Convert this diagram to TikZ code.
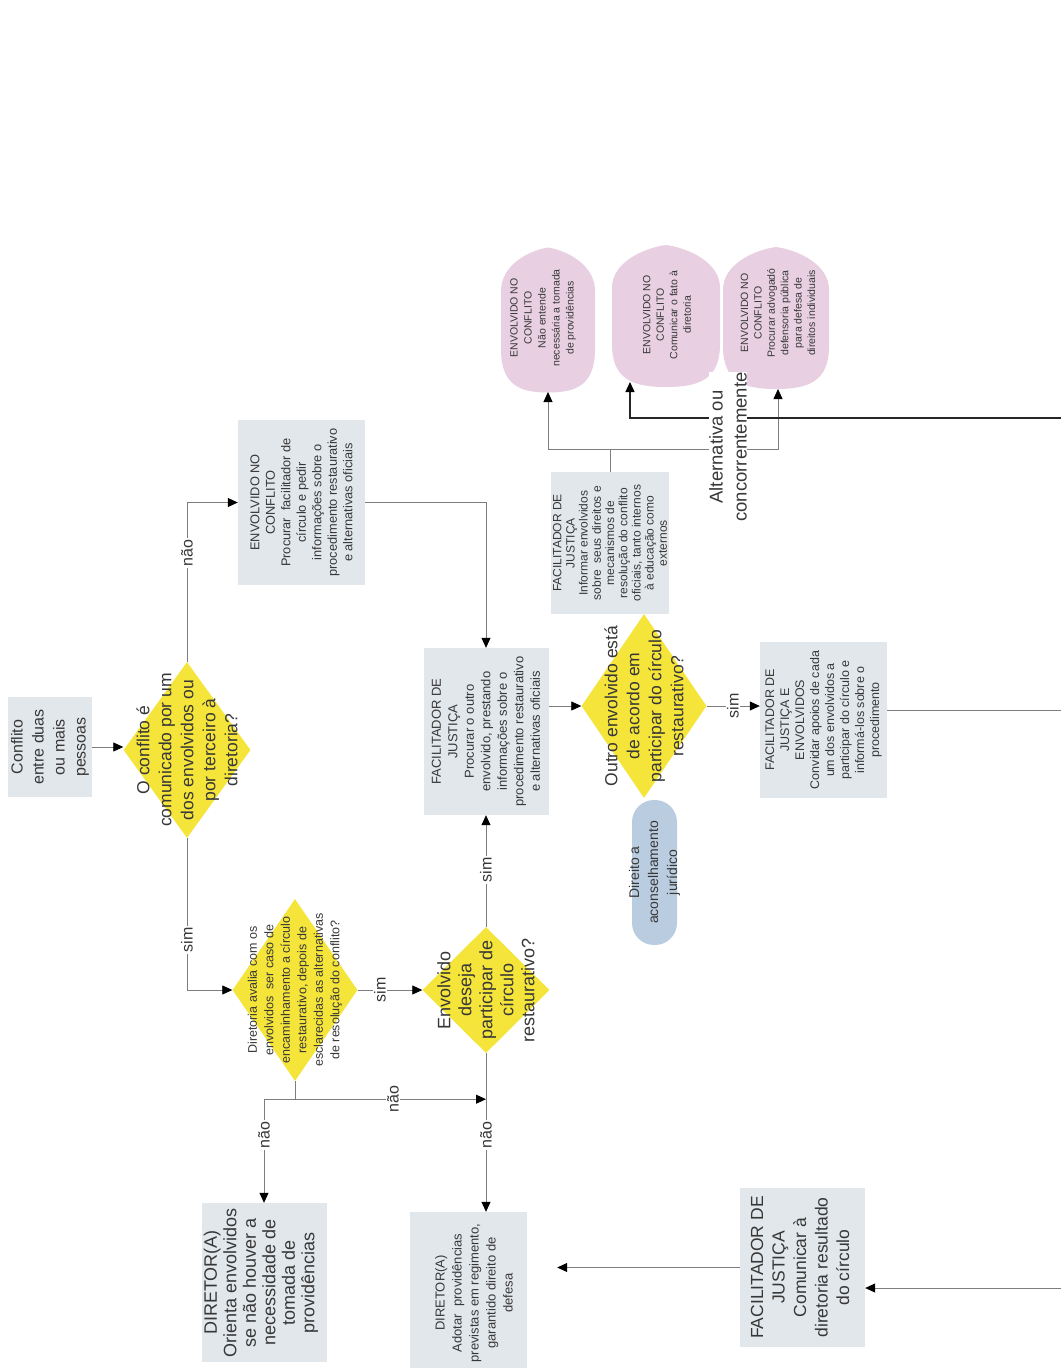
\documentclass[tikz,border=0pt]{standalone}
\usepackage{fontspec}
\setmainfont{Liberation Sans}
\usetikzlibrary{arrows.meta,shapes.geometric,calc}
\definecolor{boxgray}{RGB}{226,231,235}
\definecolor{decyellow}{RGB}{245,229,58}
\definecolor{droppink}{RGB}{232,208,226}
\definecolor{pillblue}{RGB}{186,205,224}
\definecolor{linegray}{RGB}{125,125,125}
\definecolor{inkgray}{RGB}{55,55,55}
\newcommand\fsz[2]{\fontsize{#1pt}{#2pt}\selectfont}

\begin{document}
\begin{tikzpicture}[x=1pt,y=-1pt,
  box/.style={rectangle, fill=boxgray, draw=none, inner sep=0pt},
  decision/.style={diamond, fill=decyellow, draw=none, inner sep=0pt},
  pill/.style={rectangle, rounded corners=22pt, fill=pillblue, draw=none, inner sep=0pt},
  txt/.style={rotate=90, align=center, text=inkgray, inner sep=0pt},
  conn/.style={draw=linegray, line width=0.8pt},
  arr/.style={conn, -{Triangle[length=10pt,width=9pt,color=black]}},
  boldarr/.style={draw=black!85, line width=1.3pt, -{Triangle[length=10pt,width=9pt,color=black]}},
  lbl/.style={rotate=90, fill=white, inner sep=1.5pt, text=inkgray, font=\fsz{16}{18}},
  drop/.style={fill=droppink, draw=none},
]
\fill[white] (0,0) rectangle (1061,1368);
\useasboundingbox (0,0) rectangle (1061,1368);

% ---------- rounded "drop" outcomes (unit shape, scaled per use) ----------
\def\dropoutline{(-0.5,-0.2) -- (-0.5,0.2) .. controls (-0.5,0.45) and (-0.3,0.5) .. (0,0.5)
   .. controls (0.3,0.5) and (0.5,0.45) .. (0.5,0.2) -- (0.5,-0.2)
   .. controls (0.5,-0.38) and (0.2,-0.48) .. (0,-0.5)
   .. controls (-0.2,-0.48) and (-0.5,-0.38) .. (-0.5,-0.2) -- cycle}
\begin{scope}[shift={(548,320)}, x=94pt, y=-145pt]
  \fill[drop] \dropoutline;
\end{scope}
\begin{scope}[shift={(666,316)}, x=108pt, y=-142pt]
  \fill[drop] \dropoutline;
\end{scope}
\begin{scope}[shift={(776,318)}, x=106pt, y=-142pt]
  \fill[drop] \dropoutline;
\end{scope}
\node[txt, font=\fsz{10.5}{14}] (s1) at (543,318)
  {ENVOLVIDO NO\\CONFLITO\\Não entende\\necessária a tomada\\de providências};
\node[txt, font=\fsz{10.5}{13.5}] (s2) at (667,315)
  {ENVOLVIDO NO\\CONFLITO\\Comunicar o fato à\\diretoria};
\node[txt, font=\fsz{10.5}{13.4}] (s3) at (778,313)
  {ENVOLVIDO NO\\CONFLITO\\Procurar advogadó\\defensoria pública\\para defesa de\\direitos individuais};
\coordinate (s1b) at (548,392);
\coordinate (s2b) at (630,382);
\coordinate (s3b) at (778,389);

% ---------- process boxes ----------
\node[box, minimum width=84pt, minimum height=100pt] (n0) at (50,747) {};
\node[txt, font=\fsz{16}{21}] (n0t) at (n0) {Conflito\\entre duas\\ou mais\\pessoas};

\node[box, minimum width=127pt, minimum height=165pt] (b3) at (301.5,502.5) {};
\node[txt, font=\fsz{12.8}{15.5}] (b3t) at (b3)
  {ENVOLVIDO NO\\CONFLITO\\Procurar\ \ facilitador de\\círculo e pedir\\informações sobre o\\procedimento restaurativo\\e alternativas oficiais};

\node[box, minimum width=125pt, minimum height=167pt] (b4) at (486,731.5) {};
\node[txt, font=\fsz{13}{16.5}] (b4t) at (b4)
  {FACILITADOR DE\\JUSTIÇA\\Procurar o outro\\envolvido, prestando\\informações sobre o\\procedimento restaurativo\\e alternativas oficiais};

\node[box, minimum width=118pt, minimum height=142pt] (b5) at (610,543) {};
\node[txt, font=\fsz{12}{13.2}] (b5t) at (b5)
  {FACILITADOR DE\\JUSTIÇA\\Informar envolvidos\\sobre\ \ seus direitos e\\mecanismos de\\resolução do conflito\\oficiais, tanto internos\\à educação como\\externos};

\node[box, minimum width=127pt, minimum height=156pt] (b6) at (823.5,720) {};
\node[txt, font=\fsz{12.5}{15}] (b6t) at (b6)
  {FACILITADOR DE\\JUSTIÇA E\\ENVOLVIDOS\\Convidar apoios de cada\\um dos envolvidos a\\participar do círculo e\\informá-los sobre o\\procedimento};

\node[pill, minimum width=45pt, minimum height=145pt] (p1) at (654.5,872.5) {};
\node[txt, font=\fsz{14}{19}] (p1t) at (p1) {Direito a\\aconselhamento\\jurídico};

\node[box, minimum width=125pt, minimum height=159pt] (b7) at (264,1282.5) {};
\node[txt, font=\fsz{18}{19.5}] (b7t) at (261,1282.5)
  {DIRETOR(A)\\Orienta envolvidos\\se não houver a\\necessidade de\\tomada de\\providências};

\node[box, minimum width=117pt, minimum height=160pt] (b8) at (468.5,1292) {};
\node[txt, font=\fsz{13}{17}] (b8t) at (474,1293)
  {DIRETOR(A)\\Adotar\ \ providências\\previstas em regimento,\\garantido direito de\\defesa};

\node[box, minimum width=125pt, minimum height=159pt] (b9) at (802.5,1267.5) {};
\node[txt, font=\fsz{17.5}{21.5}] (b9t) at (800,1267.5)
  {FACILITADOR DE\\JUSTIÇA\\Comunicar à\\diretoria resultado\\do círculo};

% ---------- decisions ----------
\node[decision, minimum width=127pt, minimum height=176pt] (d1) at (187,750) {};
\node[txt, font=\fsz{17.5}{22}] (d1t) at (d1)
  {O conflito é\\comunicado por um\\dos envolvidos ou\\por terceiro à\\diretoria?};

\node[decision, minimum width=125pt, minimum height=182pt] (d2) at (295,990) {};
\node[txt, font=\fsz{12.5}{16.5}] (d2t) at (d2)
  {Diretoria avalia com os\\envolvidos\ \ ser caso de\\encaminhamento a círculo\\restaurativo, depois de\\esclarecidas as alternativas\\de resolução do conflito?};

\node[decision, minimum width=127pt, minimum height=126pt] (d4) at (486,990) {};
\node[txt, font=\fsz{18}{21}] (d4t) at (d4)
  {Envolvido\\deseja\\participar de\\círculo\\restaurativo?};

\node[decision, minimum width=125pt, minimum height=184pt] (d3) at (644,706) {};
\node[txt, font=\fsz{17.5}{22}] (d3t) at (d3)
  {Outro envolvido está\\de acordo em\\participar do círculo\\restaurativo?};

% ---------- connectors ----------
\draw[arr] (n0.east) -- (n0.east -| d1.west);
\draw[arr] (d1.north) |- (b3.west);
\draw[arr] (d1.south) |- (d2.west);
\draw[arr] (b3.east) -| (b4.north);
\draw[arr] (b4.east |- d3.west) -- (d3.west);
\draw[arr] (d3.east) -- (d3.east -| b6.west);
\coordinate (edge2) at (1061,710);
\draw[conn] (edge2 -| b6.east) -- (edge2);

\draw[arr] (d2.east) -- (d4.west);
\draw[arr] (d4.north) -- (b4.south);
\draw[arr] (d4.south) -- (d4.south |- b8.north);
\draw[conn] (d2.south) -- ++(0,18) coordinate (j2);
\draw[arr] (j2) -| (b7.north);
\draw[arr] (j2) -- (j2 -| d4.south);

\draw[conn] (b5.north) -- ++(0,-22) coordinate (j1);
\draw[arr] (j1) -| (s1b);
\draw[arr] (j1) -| (s3b);

\coordinate (edge1) at (1061,418);
\draw[boldarr] (edge1) -| (s2b);

\coordinate (edge3) at (1061,1288);
\draw[arr] (edge3) -- (edge3 -| b9.east);
\draw[arr, shorten >=30pt] (b9.west) -- (b9.west -| b8.east);

% ---------- connector labels ----------
\node[lbl] (l1) at (187,553) {não};
\node[lbl] (l2) at (187,940) {sim};
\node[lbl] (l3) at (380,990) {sim};
\node[lbl] (l4) at (486,870) {sim};
\node[lbl] (l5) at (486,1135) {não};
\node[lbl] (l6) at (264,1135) {não};
\node[lbl] (l7) at (393,1099) {não};
\node[lbl] (l8) at (733,706) {sim};
\node[rotate=90, fill=white, align=center, text=inkgray, inner sep=0.5pt,
      font=\fsz{18.5}{24}] (alt) at (728,447) {Alternativa ou\\concorrentemente};
\end{tikzpicture}
\end{document}
